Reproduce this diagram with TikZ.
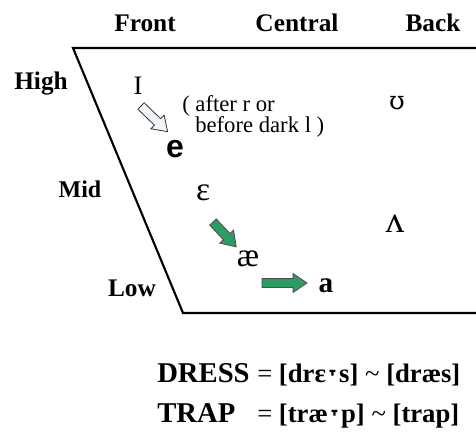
\documentclass[tikz,border=0pt]{standalone}
\usepackage{fontspec}
\setmainfont{Liberation Serif}
\newfontfamily\arialfont{Liberation Sans}
\newfontfamily\tackfont{DejaVu Sans}
\newfontfamily\ipaserif{DejaVu Serif}

\definecolor{vowelgreen}{HTML}{2E9A64}
\definecolor{hollowfill}{HTML}{EEF5F8}

\tikzset{
  every node/.style={inner sep=0pt},
  axislabel/.style={font=\bfseries\fontsize{19}{22}\selectfont, anchor=base},
  vowel/.style={font=\fontsize{20}{24}\selectfont, anchor=base},
  bigvowel/.style={font=\fontsize{25}{28}\selectfont, anchor=base},
  note/.style={font=\fontsize{17}{20}\selectfont, anchor=base west},
  formula/.style={font=\fontsize{20}{24}\selectfont, anchor=base west},
  chart/.style={line width=1.6pt, line join=miter},
  greenarrow/.style={draw=black!70, fill=vowelgreen, line width=0.6pt},
  hollowarrow/.style={draw=black!80, fill=hollowfill, line width=0.6pt},
}

% block arrow: style, tail coordinate, angle, length
\newcommand{\fatarrow}[4]{%
  \draw[#1, shift={(#2)}, rotate=#3]
    (0,-4.5) -- (#4-14,-4.5) -- (#4-14,-9.5) -- (#4,0)
    -- (#4-14,9.5) -- (#4-14,4.5) -- (0,4.5) -- cycle;
}

\begin{document}
\begin{tikzpicture}[x=0.75pt, y=-0.75pt]
    \useasboundingbox (0,0) rectangle (476,441);

    % chart outline
    \coordinate (topleft) at (73,48);
    \coordinate (topright) at (476,48);
    \coordinate (botleft) at (183,313);
    \coordinate (botright) at (476,313);
    \draw[chart] (topright) -- (topleft) -- (botleft) -- (botright);

    % backness labels
    \node[axislabel] (front) at (145,32) {Front};
    \node[axislabel] (central) at (297,32) {Central};
    \node[axislabel] (back) at (433,32) {Back};

    % height labels
    \node[axislabel] (high) at (41,90) {High};
    \node[axislabel, font=\bfseries\fontsize{18}{22}\selectfont] (mid) at (80,198) {Mid};
    \node[axislabel] (low) at (132,297) {Low};

    % vowels
    \node[vowel] (kit) at (138,95) {I};
    \node[font=\arialfont\bfseries\fontsize{24}{28}\selectfont, anchor=base] (e) at (175,158) {e};
    \node[vowel, font=\ipaserif\fontsize{19}{24}\selectfont] (foot) at (397,110) {ʊ};
    \node[bigvowel] (eps) at (203,201) {ɛ};
    \node[bigvowel] (ae) at (248,267) {æ};
    \node[font=\bfseries\fontsize{22}{26}\selectfont, anchor=base] (a) at (326,293) {a};
    \node[vowel, font=\fontsize{28}{32}\selectfont] (strut) at (395,233) {ʌ};

    % condition note
    \node[note] (cond1) at (182,112) {( after r or};
    \node[note] (cond2) at (195,133) {before dark l )};

    % shifts
    \coordinate (tailkit) at (141,106);
    \coordinate (taileps) at (213,222);
    \coordinate (tailae) at (262,283);
    \fatarrow{hollowarrow}{tailkit}{-44}{37}
    \fatarrow{greenarrow}{taileps}{-47}{34}
    \fatarrow{greenarrow}{tailae}{0}{45}

    % transcriptions
    \node[formula, font=\bfseries\fontsize{21.5}{24}\selectfont] (dress) at (157,383) {DRESS};
    \node[formula] (dresseq) at (257,383) {= \textbf{[drɛ{\tackfont\bfseries ˕}s]} \textasciitilde{} \textbf{[dræs]}};
    \node[formula, font=\bfseries\fontsize{21.5}{24}\selectfont] (trap) at (157,423) {TRAP};
    \node[formula] (trapeq) at (257,423) {= \textbf{[træ{\tackfont\bfseries ˕}p]} \textasciitilde{} \textbf{[trap]}};
\end{tikzpicture}
\end{document}
